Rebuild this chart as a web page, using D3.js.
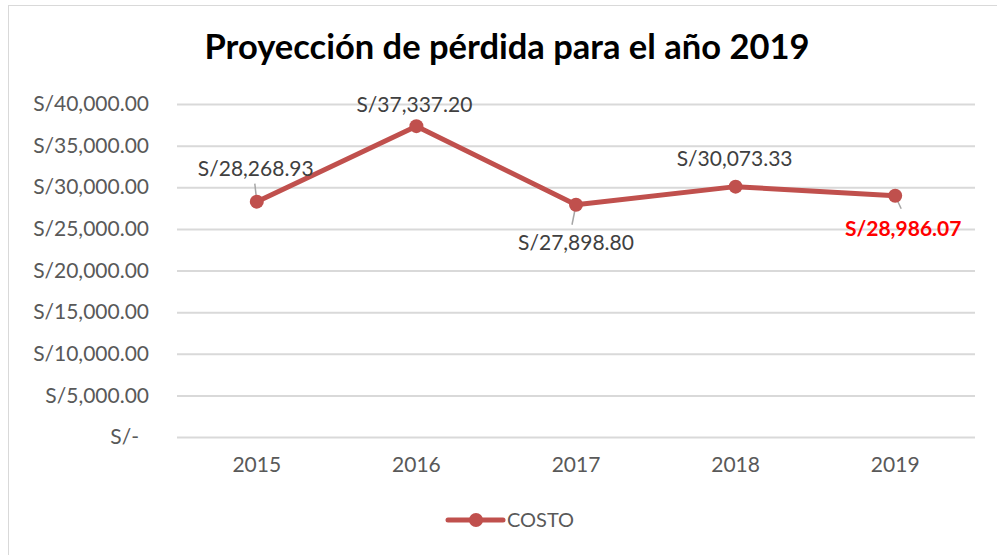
<!DOCTYPE html>
<html>
<head>
<meta charset="utf-8">
<script src="https://cdn.jsdelivr.net/npm/d3@7"></script>
<style>
  body { margin: 0; background: #fff; }
  text { font-family: Lato, "Open Sans", sans-serif; }
</style>
</head>
<body>
<div id="chart"></div>
<script>
const width = 997;
const height = 555;

const years = ["2015", "2016", "2017", "2018", "2019"];
const costo = [28268.93, 37337.20, 27898.80, 30073.33, 28986.07];
const yTicks = [0, 5000, 10000, 15000, 20000, 25000, 30000, 35000, 40000];

const margin = { top: 104, right: 22, bottom: 118, left: 177 };
const lineColor = "#C0504D";

const svg = d3.select("#chart")
    .append("svg")
    .attr("width", width)
    .attr("height", height);

// chart frame (only left and top edges show in the picture)
svg.append("rect")
    .attr("x", 8.5)
    .attr("y", 5.5)
    .attr("width", width + 20)
    .attr("height", height + 20)
    .attr("fill", "none")
    .attr("stroke", "#d9d9d9");

svg.append("text")
    .attr("x", 507)
    .attr("y", 59)
    .attr("text-anchor", "middle")
    .attr("font-size", 34.5)
    .attr("font-weight", "bold")
    .attr("fill", "#000")
    .text("Proyección de pérdida para el año 2019");

const x = d3.scaleBand()
    .domain(years)
    .range([margin.left, width - margin.right]);

const y = d3.scaleLinear()
    .domain([0, 40000])
    .range([height - margin.bottom, margin.top]);

const money = (v) => v === 0 ? "S/-" : "S/" + d3.format(",.2f")(v);

const yAxis = svg.append("g")
    .attr("transform", `translate(${margin.left},0)`)
    .call(d3.axisLeft(y).tickValues(yTicks).tickFormat(money).tickSize(-(width - margin.left - margin.right)).tickPadding(28));
yAxis.select(".domain").remove();
yAxis.selectAll(".tick line").attr("stroke", "#d9d9d9").attr("stroke-width", 2);
yAxis.selectAll(".tick text")
    .attr("font-size", 21)
    .attr("fill", "#595959")
    .attr("font-family", "Lato, sans-serif");
yAxis.selectAll(".tick").filter((d) => d === 0).select("text").attr("dx", -10);

const xAxis = svg.append("g")
    .attr("transform", `translate(0,${height - margin.bottom})`)
    .call(d3.axisBottom(x).tickSize(0).tickPadding(20));
xAxis.select(".domain").remove();
xAxis.selectAll(".tick text")
    .attr("font-size", 21)
    .attr("fill", "#595959")
    .attr("font-family", "Lato, sans-serif");

const px = (i) => x(years[i]) + x.bandwidth() / 2;
const py = (i) => y(costo[i]);

const line = d3.line()
    .x((d, i) => px(i))
    .y((d, i) => py(i));

svg.append("path")
    .datum(costo)
    .attr("d", line)
    .attr("fill", "none")
    .attr("stroke", lineColor)
    .attr("stroke-width", 5)
    .attr("stroke-linejoin", "round");

// data labels with leader lines (offsets relative to each point)
const labelPos = costo.map((v, i) => {
    if (i === 0) return { x: px(i) - 1, y: py(i) - 26, lx1: px(i) - 2, ly1: py(i) - 18 };
    if (i === 1) return { x: px(i) - 2, y: py(i) - 14, lx1: null };
    if (i === 2) return { x: px(i) - 0, y: py(i) + 45, lx1: px(i) - 4, ly1: py(i) + 20 };
    if (i === 3) return { x: px(i) - 1, y: py(i) - 21, lx1: null };
    return { x: px(i) + 8, y: py(i) + 40, lx1: px(i) + 6, ly1: py(i) + 13 };
});

svg.append("g")
    .selectAll("line")
    .data(labelPos.map((d, i) => ({ d: d, i: i })).filter((o) => o.d.lx1 !== null))
    .enter().append("line")
    .attr("x1", (o) => o.d.lx1)
    .attr("y1", (o) => o.d.ly1)
    .attr("x2", (o) => px(o.i))
    .attr("y2", (o) => py(o.i))
    .attr("stroke", "#a6a6a6")
    .attr("stroke-width", 1.5);

svg.append("g")
    .selectAll("circle")
    .data(costo)
    .enter().append("circle")
    .attr("cx", (d, i) => px(i))
    .attr("cy", (d, i) => py(i))
    .attr("r", 7)
    .attr("fill", lineColor);

svg.append("g")
    .selectAll("text")
    .data(costo)
    .enter().append("text")
    .attr("x", (d, i) => labelPos[i].x)
    .attr("y", (d, i) => labelPos[i].y)
    .attr("text-anchor", "middle")
    .attr("font-size", 21)
    .attr("font-weight", (d, i) => i === 4 ? "bold" : "normal")
    .attr("fill", (d, i) => i === 4 ? "#ff0000" : "#404040")
    .text((d) => money(d));

// legend
const legend = svg.append("g").attr("transform", "translate(448,520)");
legend.append("line")
    .attr("x1", 0).attr("x2", 55)
    .attr("y1", 0).attr("y2", 0)
    .attr("stroke", lineColor)
    .attr("stroke-width", 5)
    .attr("stroke-linecap", "round");
legend.append("circle")
    .attr("cx", 28).attr("cy", 0).attr("r", 7)
    .attr("fill", lineColor);
legend.append("text")
    .attr("x", 59).attr("y", 7)
    .attr("font-size", 20)
    .attr("fill", "#595959")
    .text("COSTO");
</script>
</body>
</html>
